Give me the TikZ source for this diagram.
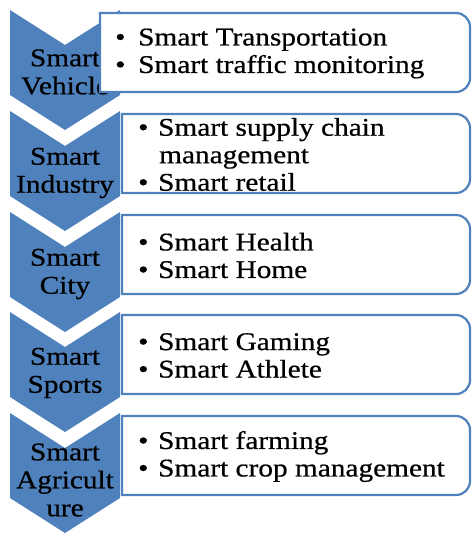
\documentclass[tikz,border=0pt]{standalone}
\usepackage{fontspec}
\setmainfont{Liberation Serif}[FakeStretch=1.15, FakeBold=0.6]
\definecolor{chevblue}{HTML}{4F81BD}
\tikzset{
  chev/.style={fill=chevblue},
  listbox/.style={draw=chevblue, line width=2.2pt, fill=white},
  chevtext/.style={font=\fontsize{25.5}{28}\selectfont, align=center, inner sep=0pt},
  listtext/.style={font=\fontsize{25.5}{27.5}\selectfont, align=left, anchor=west, inner sep=0pt}
}
\newcommand{\bul}[1]{\makebox[#1pt][l]{\textbullet}}
\begin{document}
\begin{tikzpicture}[x=1pt, y=1pt]
      \useasboundingbox (0,0) rectangle (473,-540);
      \fill[chev] (10,-10) -- (65,-45) -- (120,-10) -- (120,-95) -- (65,-130) -- (10,-95) -- cycle;
      \fill[chev] (10,-111) -- (65,-146) -- (120,-111) -- (120,-196) -- (65,-231) -- (10,-196) -- cycle;
      \fill[chev] (10,-212) -- (65,-247) -- (120,-212) -- (120,-297) -- (65,-332) -- (10,-297) -- cycle;
      \fill[chev] (10,-312) -- (65,-347) -- (120,-312) -- (120,-397) -- (65,-432) -- (10,-397) -- cycle;
      \fill[chev] (10,-413) -- (65,-448) -- (120,-413) -- (120,-498) -- (65,-533) -- (10,-498) -- cycle;
      \node[chevtext] (vehicle) at (65,-72) {Smart\\Vehicle};
      \node[chevtext] (industry) at (65,-173) {Smart\\Industry};
      \node[chevtext] (city) at (65,-274) {Smart\\City};
      \node[chevtext] (sports) at (65,-373) {Smart\\Sports};
      \node[chevtext] (agri) at (65,-480) {Smart\\Agricult\\ure};
      \draw[listbox] (100,-13) -- (456,-13) arc[start angle=90, end angle=0, radius=14pt]
        -- (470,-78) arc[start angle=0, end angle=-90, radius=14pt] -- (100,-92) -- cycle;
      \draw[listbox] (122,-114) -- (456,-114) arc[start angle=90, end angle=0, radius=14pt]
        -- (470,-179) arc[start angle=0, end angle=-90, radius=14pt] -- (122,-193) -- cycle;
      \draw[listbox] (122,-215) -- (456,-215) arc[start angle=90, end angle=0, radius=14pt]
        -- (470,-280) arc[start angle=0, end angle=-90, radius=14pt] -- (122,-294) -- cycle;
      \draw[listbox] (122,-315) -- (456,-315) arc[start angle=90, end angle=0, radius=14pt]
        -- (470,-380) arc[start angle=0, end angle=-90, radius=14pt] -- (122,-394) -- cycle;
      \draw[listbox] (122,-416) -- (456,-416) arc[start angle=90, end angle=0, radius=14pt]
        -- (470,-481) arc[start angle=0, end angle=-90, radius=14pt] -- (122,-495) -- cycle;
      \node[listtext] (vehiclelist) at (115,-53.5)
        {\bul{23}Smart Transportation\\\bul{23}Smart traffic monitoring};
      \node[listtext] (industrylist) at (138,-154.5)
        {\bul{20}Smart supply chain\\\hspace*{21pt}management\\\bul{20}Smart retail};
      \node[listtext] (citylist) at (138,-255.5)
        {\bul{20}Smart Health\\\bul{20}Smart Home};
      \node[listtext] (sportslist) at (138,-355.5)
        {\bul{20}Smart Gaming\\\bul{20}Smart Athlete};
      \node[listtext] (agrilist) at (138,-456.5)
        {\bul{20}Smart farming\\\bul{20}Smart crop management};
    \end{tikzpicture}
\end{document}
